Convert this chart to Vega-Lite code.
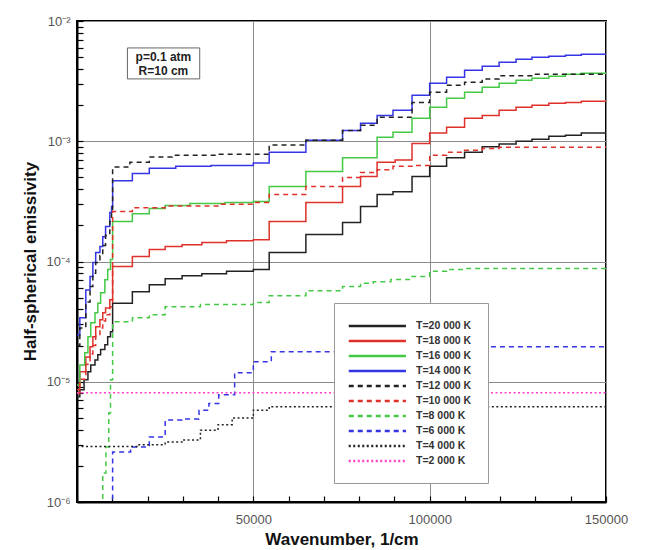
{
  "$schema": "https://vega.github.io/schema/vega-lite/v6.json",
  "width": 529,
  "height": 481,
  "autosize": "none",
  "padding": {"left": 77, "top": 21, "right": 48, "bottom": 48},
  "config": {
    "font": "Liberation Sans",
    "view": {"stroke": "#000", "strokeWidth": 2},
    "axis": {"domainColor": "#000", "domainWidth": 2, "tickColor": "#000", "tickWidth": 1.2, "labelColor": "#555", "labelFontSize": 13, "titleFontSize": 17, "titleFontWeight": "bold", "titleColor": "#111", "gridColor": "#8a8a8a", "gridWidth": 1, "labelOverlap": false, "ticks": true}
  },
  "datasets": {
    "curves": [
      {"T": "T=20 000 K", "wn": 0, "e": 7.5e-6}, {"T": "T=20 000 K", "wn": 800, "e": 8.6e-6}, {"T": "T=20 000 K", "wn": 2000, "e": 1.04e-5}, {"T": "T=20 000 K", "wn": 3100, "e": 1.21e-5}, {"T": "T=20 000 K", "wn": 3900, "e": 1.38e-5}, {"T": "T=20 000 K", "wn": 5100, "e": 1.52e-5}, {"T": "T=20 000 K", "wn": 5900, "e": 1.68e-5}, {"T": "T=20 000 K", "wn": 6700, "e": 1.85e-5}, {"T": "T=20 000 K", "wn": 7900, "e": 2.03e-5}, {"T": "T=20 000 K", "wn": 8700, "e": 2.37e-5}, {"T": "T=20 000 K", "wn": 9500, "e": 2.6e-5}, {"T": "T=20 000 K", "wn": 10100, "e": 4.5e-5}, {"T": "T=20 000 K", "wn": 15700, "e": 5.6e-5}, {"T": "T=20 000 K", "wn": 20500, "e": 6.4e-5}, {"T": "T=20 000 K", "wn": 25000, "e": 7.2e-5}, {"T": "T=20 000 K", "wn": 29800, "e": 7.6e-5}, {"T": "T=20 000 K", "wn": 35400, "e": 7.9e-5}, {"T": "T=20 000 K", "wn": 42400, "e": 8.3e-5}, {"T": "T=20 000 K", "wn": 50000, "e": 8.6e-5}, {"T": "T=20 000 K", "wn": 54500, "e": 1.19e-4}, {"T": "T=20 000 K", "wn": 64900, "e": 1.68e-4}, {"T": "T=20 000 K", "wn": 75300, "e": 2.11e-4}, {"T": "T=20 000 K", "wn": 80400, "e": 2.87e-4}, {"T": "T=20 000 K", "wn": 85100, "e": 3.6e-4}, {"T": "T=20 000 K", "wn": 89600, "e": 3.8e-4}, {"T": "T=20 000 K", "wn": 95000, "e": 5.1e-4}, {"T": "T=20 000 K", "wn": 100000, "e": 6.2e-4}, {"T": "T=20 000 K", "wn": 104800, "e": 7.3e-4}, {"T": "T=20 000 K", "wn": 109900, "e": 8.1e-4}, {"T": "T=20 000 K", "wn": 114900, "e": 9.0e-4}, {"T": "T=20 000 K", "wn": 119700, "e": 9.5e-4}, {"T": "T=20 000 K", "wn": 124500, "e": 1.0e-3}, {"T": "T=20 000 K", "wn": 129000, "e": 1.04e-3}, {"T": "T=20 000 K", "wn": 133800, "e": 1.1e-3}, {"T": "T=20 000 K", "wn": 138500, "e": 1.12e-3}, {"T": "T=20 000 K", "wn": 143000, "e": 1.17e-3}, {"T": "T=20 000 K", "wn": 150000, "e": 1.19e-3},

      {"T": "T=18 000 K", "wn": 0, "e": 8.6e-6}, {"T": "T=18 000 K", "wn": 800, "e": 1.21e-5}, {"T": "T=18 000 K", "wn": 2500, "e": 1.61e-5}, {"T": "T=18 000 K", "wn": 3700, "e": 1.95e-5}, {"T": "T=18 000 K", "wn": 4500, "e": 2.37e-5}, {"T": "T=18 000 K", "wn": 5300, "e": 2.87e-5}, {"T": "T=18 000 K", "wn": 6500, "e": 3.28e-5}, {"T": "T=18 000 K", "wn": 7300, "e": 3.75e-5}, {"T": "T=18 000 K", "wn": 8100, "e": 4.1e-5}, {"T": "T=18 000 K", "wn": 9300, "e": 4.8e-5}, {"T": "T=18 000 K", "wn": 10100, "e": 9.1e-5}, {"T": "T=18 000 K", "wn": 15700, "e": 1.1e-4}, {"T": "T=18 000 K", "wn": 20500, "e": 1.26e-4}, {"T": "T=18 000 K", "wn": 25000, "e": 1.33e-4}, {"T": "T=18 000 K", "wn": 29800, "e": 1.38e-4}, {"T": "T=18 000 K", "wn": 35400, "e": 1.44e-4}, {"T": "T=18 000 K", "wn": 42400, "e": 1.49e-4}, {"T": "T=18 000 K", "wn": 50000, "e": 1.52e-4}, {"T": "T=18 000 K", "wn": 54500, "e": 2.15e-4}, {"T": "T=18 000 K", "wn": 64900, "e": 3.1e-4}, {"T": "T=18 000 K", "wn": 75300, "e": 4.2e-4}, {"T": "T=18 000 K", "wn": 80400, "e": 5.1e-4}, {"T": "T=18 000 K", "wn": 85100, "e": 6.7e-4}, {"T": "T=18 000 K", "wn": 90200, "e": 7.0e-4}, {"T": "T=18 000 K", "wn": 95000, "e": 9.6e-4}, {"T": "T=18 000 K", "wn": 100000, "e": 1.17e-3}, {"T": "T=18 000 K", "wn": 104800, "e": 1.31e-3}, {"T": "T=18 000 K", "wn": 109900, "e": 1.55e-3}, {"T": "T=18 000 K", "wn": 114900, "e": 1.64e-3}, {"T": "T=18 000 K", "wn": 119700, "e": 1.81e-3}, {"T": "T=18 000 K", "wn": 124500, "e": 1.92e-3}, {"T": "T=18 000 K", "wn": 129000, "e": 1.99e-3}, {"T": "T=18 000 K", "wn": 133800, "e": 2.07e-3}, {"T": "T=18 000 K", "wn": 138500, "e": 2.1e-3}, {"T": "T=18 000 K", "wn": 143000, "e": 2.15e-3}, {"T": "T=18 000 K", "wn": 150000, "e": 2.2e-3},

      {"T": "T=16 000 K", "wn": 0, "e": 9.4e-6}, {"T": "T=16 000 K", "wn": 800, "e": 1.38e-5}, {"T": "T=16 000 K", "wn": 2200, "e": 1.74e-5}, {"T": "T=16 000 K", "wn": 3100, "e": 2.37e-5}, {"T": "T=16 000 K", "wn": 3900, "e": 3.1e-5}, {"T": "T=16 000 K", "wn": 5100, "e": 3.75e-5}, {"T": "T=16 000 K", "wn": 5900, "e": 4.5e-5}, {"T": "T=16 000 K", "wn": 6700, "e": 5.5e-5}, {"T": "T=16 000 K", "wn": 7900, "e": 7.05e-5}, {"T": "T=16 000 K", "wn": 8700, "e": 8.6e-5}, {"T": "T=16 000 K", "wn": 9500, "e": 1.04e-4}, {"T": "T=16 000 K", "wn": 10100, "e": 2.15e-4}, {"T": "T=16 000 K", "wn": 15700, "e": 2.5e-4}, {"T": "T=16 000 K", "wn": 20500, "e": 2.76e-4}, {"T": "T=16 000 K", "wn": 25000, "e": 2.92e-4}, {"T": "T=16 000 K", "wn": 32000, "e": 3.03e-4}, {"T": "T=16 000 K", "wn": 42000, "e": 3.1e-4}, {"T": "T=16 000 K", "wn": 50000, "e": 3.15e-4}, {"T": "T=16 000 K", "wn": 54500, "e": 4.2e-4}, {"T": "T=16 000 K", "wn": 64900, "e": 5.6e-4}, {"T": "T=16 000 K", "wn": 75300, "e": 7.3e-4}, {"T": "T=16 000 K", "wn": 85100, "e": 1.08e-3}, {"T": "T=16 000 K", "wn": 89600, "e": 1.19e-3}, {"T": "T=16 000 K", "wn": 95000, "e": 1.55e-3}, {"T": "T=16 000 K", "wn": 100000, "e": 1.92e-3}, {"T": "T=16 000 K", "wn": 104800, "e": 2.28e-3}, {"T": "T=16 000 K", "wn": 109900, "e": 2.56e-3}, {"T": "T=16 000 K", "wn": 114900, "e": 2.81e-3}, {"T": "T=16 000 K", "wn": 119700, "e": 3.03e-3}, {"T": "T=16 000 K", "wn": 124500, "e": 3.21e-3}, {"T": "T=16 000 K", "wn": 129000, "e": 3.34e-3}, {"T": "T=16 000 K", "wn": 133800, "e": 3.47e-3}, {"T": "T=16 000 K", "wn": 138500, "e": 3.6e-3}, {"T": "T=16 000 K", "wn": 143000, "e": 3.68e-3}, {"T": "T=16 000 K", "wn": 150000, "e": 3.75e-3},

      {"T": "T=14 000 K", "wn": 0, "e": 2.46e-5}, {"T": "T=14 000 K", "wn": 800, "e": 3.4e-5}, {"T": "T=14 000 K", "wn": 2500, "e": 5.8e-5}, {"T": "T=14 000 K", "wn": 3700, "e": 7.5e-5}, {"T": "T=14 000 K", "wn": 4500, "e": 9.8e-5}, {"T": "T=14 000 K", "wn": 5300, "e": 1.19e-4}, {"T": "T=14 000 K", "wn": 6500, "e": 1.33e-4}, {"T": "T=14 000 K", "wn": 7300, "e": 1.61e-4}, {"T": "T=14 000 K", "wn": 8100, "e": 1.95e-4}, {"T": "T=14 000 K", "wn": 9300, "e": 2.55e-4}, {"T": "T=14 000 K", "wn": 9800, "e": 2.87e-4}, {"T": "T=14 000 K", "wn": 10100, "e": 4.7e-4}, {"T": "T=14 000 K", "wn": 15700, "e": 5.4e-4}, {"T": "T=14 000 K", "wn": 20500, "e": 5.96e-4}, {"T": "T=14 000 K", "wn": 28000, "e": 6.2e-4}, {"T": "T=14 000 K", "wn": 38000, "e": 6.3e-4}, {"T": "T=14 000 K", "wn": 50000, "e": 6.6e-4}, {"T": "T=14 000 K", "wn": 54500, "e": 8.1e-4}, {"T": "T=14 000 K", "wn": 64900, "e": 1.02e-3}, {"T": "T=14 000 K", "wn": 75300, "e": 1.23e-3}, {"T": "T=14 000 K", "wn": 80400, "e": 1.41e-3}, {"T": "T=14 000 K", "wn": 85100, "e": 1.64e-3}, {"T": "T=14 000 K", "wn": 89600, "e": 1.81e-3}, {"T": "T=14 000 K", "wn": 95000, "e": 2.41e-3}, {"T": "T=14 000 K", "wn": 100000, "e": 3.03e-3}, {"T": "T=14 000 K", "wn": 104800, "e": 3.4e-3}, {"T": "T=14 000 K", "wn": 109900, "e": 3.89e-3}, {"T": "T=14 000 K", "wn": 114900, "e": 4.2e-3}, {"T": "T=14 000 K", "wn": 119700, "e": 4.53e-3}, {"T": "T=14 000 K", "wn": 124500, "e": 4.8e-3}, {"T": "T=14 000 K", "wn": 129000, "e": 5.0e-3}, {"T": "T=14 000 K", "wn": 133800, "e": 5.1e-3}, {"T": "T=14 000 K", "wn": 138500, "e": 5.2e-3}, {"T": "T=14 000 K", "wn": 143000, "e": 5.3e-3}, {"T": "T=14 000 K", "wn": 150000, "e": 5.3e-3},

      {"T": "T=12 000 K", "wn": 0, "e": 2.0e-5}, {"T": "T=12 000 K", "wn": 800, "e": 2.8e-5}, {"T": "T=12 000 K", "wn": 2500, "e": 4.6e-5}, {"T": "T=12 000 K", "wn": 3700, "e": 6.2e-5}, {"T": "T=12 000 K", "wn": 4500, "e": 8.0e-5}, {"T": "T=12 000 K", "wn": 5300, "e": 9.8e-5}, {"T": "T=12 000 K", "wn": 6500, "e": 1.12e-4}, {"T": "T=12 000 K", "wn": 7300, "e": 1.36e-4}, {"T": "T=12 000 K", "wn": 8100, "e": 1.65e-4}, {"T": "T=12 000 K", "wn": 9300, "e": 2.15e-4}, {"T": "T=12 000 K", "wn": 9800, "e": 2.5e-4}, {"T": "T=12 000 K", "wn": 10100, "e": 6.1e-4}, {"T": "T=12 000 K", "wn": 15000, "e": 6.7e-4}, {"T": "T=12 000 K", "wn": 20500, "e": 7.4e-4}, {"T": "T=12 000 K", "wn": 27000, "e": 7.65e-4}, {"T": "T=12 000 K", "wn": 40000, "e": 7.8e-4}, {"T": "T=12 000 K", "wn": 54500, "e": 9.3e-4}, {"T": "T=12 000 K", "wn": 64900, "e": 1.02e-3}, {"T": "T=12 000 K", "wn": 75300, "e": 1.23e-3}, {"T": "T=12 000 K", "wn": 80400, "e": 1.36e-3}, {"T": "T=12 000 K", "wn": 85100, "e": 1.58e-3}, {"T": "T=12 000 K", "wn": 95000, "e": 2.1e-3}, {"T": "T=12 000 K", "wn": 100000, "e": 2.56e-3}, {"T": "T=12 000 K", "wn": 104800, "e": 2.92e-3}, {"T": "T=12 000 K", "wn": 109900, "e": 3.1e-3}, {"T": "T=12 000 K", "wn": 114900, "e": 3.3e-3}, {"T": "T=12 000 K", "wn": 119700, "e": 3.5e-3}, {"T": "T=12 000 K", "wn": 129000, "e": 3.6e-3}, {"T": "T=12 000 K", "wn": 150000, "e": 3.6e-3},

      {"T": "T=10 000 K", "wn": 0, "e": 8.0e-6}, {"T": "T=10 000 K", "wn": 800, "e": 1.05e-5}, {"T": "T=10 000 K", "wn": 2500, "e": 1.4e-5}, {"T": "T=10 000 K", "wn": 3700, "e": 1.7e-5}, {"T": "T=10 000 K", "wn": 4500, "e": 2.0e-5}, {"T": "T=10 000 K", "wn": 5300, "e": 2.4e-5}, {"T": "T=10 000 K", "wn": 6500, "e": 2.8e-5}, {"T": "T=10 000 K", "wn": 7300, "e": 3.2e-5}, {"T": "T=10 000 K", "wn": 8100, "e": 3.6e-5}, {"T": "T=10 000 K", "wn": 9300, "e": 4.2e-5}, {"T": "T=10 000 K", "wn": 10100, "e": 2.6e-4}, {"T": "T=10 000 K", "wn": 15700, "e": 2.8e-4}, {"T": "T=10 000 K", "wn": 25000, "e": 2.9e-4}, {"T": "T=10 000 K", "wn": 40000, "e": 3.0e-4}, {"T": "T=10 000 K", "wn": 50000, "e": 3.1e-4}, {"T": "T=10 000 K", "wn": 54500, "e": 3.6e-4}, {"T": "T=10 000 K", "wn": 64900, "e": 4.2e-4}, {"T": "T=10 000 K", "wn": 75300, "e": 5.0e-4}, {"T": "T=10 000 K", "wn": 80400, "e": 5.5e-4}, {"T": "T=10 000 K", "wn": 85100, "e": 5.8e-4}, {"T": "T=10 000 K", "wn": 89600, "e": 6.2e-4}, {"T": "T=10 000 K", "wn": 95000, "e": 6.3e-4}, {"T": "T=10 000 K", "wn": 100000, "e": 7.65e-4}, {"T": "T=10 000 K", "wn": 104800, "e": 8.1e-4}, {"T": "T=10 000 K", "wn": 109900, "e": 8.4e-4}, {"T": "T=10 000 K", "wn": 114900, "e": 8.7e-4}, {"T": "T=10 000 K", "wn": 119700, "e": 8.9e-4}, {"T": "T=10 000 K", "wn": 150000, "e": 9.1e-4},

      {"T": "T=8 000 K", "wn": 6500, "e": 9.4e-7}, {"T": "T=8 000 K", "wn": 7300, "e": 1.74e-6}, {"T": "T=8 000 K", "wn": 8200, "e": 2.87e-6}, {"T": "T=8 000 K", "wn": 9000, "e": 5.5e-6}, {"T": "T=8 000 K", "wn": 9500, "e": 1.04e-5}, {"T": "T=8 000 K", "wn": 10100, "e": 3.15e-5}, {"T": "T=8 000 K", "wn": 15700, "e": 3.4e-5}, {"T": "T=8 000 K", "wn": 20500, "e": 3.6e-5}, {"T": "T=8 000 K", "wn": 25000, "e": 4.2e-5}, {"T": "T=8 000 K", "wn": 35000, "e": 4.4e-5}, {"T": "T=8 000 K", "wn": 50000, "e": 4.56e-5}, {"T": "T=8 000 K", "wn": 54500, "e": 5.2e-5}, {"T": "T=8 000 K", "wn": 64900, "e": 5.7e-5}, {"T": "T=8 000 K", "wn": 75300, "e": 6.2e-5}, {"T": "T=8 000 K", "wn": 80400, "e": 6.6e-5}, {"T": "T=8 000 K", "wn": 84000, "e": 6.8e-5}, {"T": "T=8 000 K", "wn": 89000, "e": 7.1e-5}, {"T": "T=8 000 K", "wn": 95000, "e": 7.5e-5}, {"T": "T=8 000 K", "wn": 100000, "e": 8.3e-5}, {"T": "T=8 000 K", "wn": 104800, "e": 8.6e-5}, {"T": "T=8 000 K", "wn": 110000, "e": 8.75e-5}, {"T": "T=8 000 K", "wn": 150000, "e": 8.75e-5},

      {"T": "T=6 000 K", "wn": 9800, "e": 9.0e-7}, {"T": "T=6 000 K", "wn": 10100, "e": 2.6e-6}, {"T": "T=6 000 K", "wn": 15200, "e": 2.87e-6}, {"T": "T=6 000 K", "wn": 20500, "e": 3.47e-6}, {"T": "T=6 000 K", "wn": 25000, "e": 4.8e-6}, {"T": "T=6 000 K", "wn": 29800, "e": 4.9e-6}, {"T": "T=6 000 K", "wn": 34600, "e": 5.8e-6}, {"T": "T=6 000 K", "wn": 37400, "e": 6.6e-6}, {"T": "T=6 000 K", "wn": 40200, "e": 7.8e-6}, {"T": "T=6 000 K", "wn": 44700, "e": 1.19e-5}, {"T": "T=6 000 K", "wn": 50000, "e": 1.47e-5}, {"T": "T=6 000 K", "wn": 55100, "e": 1.78e-5}, {"T": "T=6 000 K", "wn": 100000, "e": 1.95e-5}, {"T": "T=6 000 K", "wn": 150000, "e": 1.95e-5},

      {"T": "T=4 000 K", "wn": 0, "e": 2.9e-6}, {"T": "T=4 000 K", "wn": 17000, "e": 3.0e-6}, {"T": "T=4 000 K", "wn": 25000, "e": 3.15e-6}, {"T": "T=4 000 K", "wn": 30000, "e": 3.28e-6}, {"T": "T=4 000 K", "wn": 35000, "e": 3.96e-6}, {"T": "T=4 000 K", "wn": 40000, "e": 4.4e-6}, {"T": "T=4 000 K", "wn": 44000, "e": 5.0e-6}, {"T": "T=4 000 K", "wn": 50000, "e": 5.8e-6}, {"T": "T=4 000 K", "wn": 54500, "e": 6.2e-6}, {"T": "T=4 000 K", "wn": 150000, "e": 6.3e-6},

      {"T": "T=2 000 K", "wn": 0, "e": 8.1e-6}, {"T": "T=2 000 K", "wn": 150000, "e": 8.1e-6}
    ],
    "noteBox": [{"wn": 14300, "wn2": 34800, "e": 5.97e-3, "e2": 3.3e-3}],
    "noteText": [{"wn": 24500, "e": 5.02e-3, "label": "p=0.1 atm"}, {"wn": 24500, "e": 3.84e-3, "label": "R=10 cm"}]
  },
  "encoding": {
    "x": {"field": "wn", "type": "quantitative", "scale": {"domain": [0, 150000], "nice": false, "zero": false},
      "axis": {"title": "Wavenumber, 1/cm", "values": [10000, 20000, 30000, 40000, 50000, 60000, 70000, 80000, 90000, 100000, 110000, 120000, 130000, 140000, 150000],
        "labelExpr": "datum.value % 50000 == 0 ? format(datum.value, 'd') : ''",
        "labelPadding": 17, "labelFlush": false,
        "tickSize": -6,
        "gridOpacity": {"condition": {"test": "datum.value % 50000 == 0", "value": 1}, "value": 0},
        "titleY": 42, "titleBaseline": "alphabetic"}},
    "y": {"field": "e", "type": "quantitative", "scale": {"type": "log", "domain": [1e-6, 1e-2], "nice": false},
      "axis": {"title": "Half-spherical emissivity",
        "values": [1e-6, 2e-6, 3e-6, 4e-6, 5e-6, 6e-6, 7e-6, 8e-6, 9e-6, 1e-5, 2e-5, 3e-5, 4e-5, 5e-5, 6e-5, 7e-5, 8e-5, 9e-5, 1e-4, 2e-4, 3e-4, 4e-4, 5e-4, 6e-4, 7e-4, 8e-4, 9e-4, 1e-3, 2e-3, 3e-3, 4e-3, 5e-3, 6e-3, 7e-3, 8e-3, 9e-3, 1e-2],
        "labelExpr": "abs(log(datum.value)/LN10 - round(log(datum.value)/LN10)) < 0.01 ? '10' + {'-2':'⁻²','-3':'⁻³','-4':'⁻⁴','-5':'⁻⁵','-6':'⁻⁶'}['' + round(log(datum.value)/LN10)] : ''",
        "labelPadding": 13, "labelFlush": false,
        "tickSize": -6,
        "gridOpacity": {"condition": {"test": "abs(log(datum.value)/LN10 - round(log(datum.value)/LN10)) < 0.01", "value": 1}, "value": 0},
        "titleX": -42, "titleY": 240, "titleAlign": "center", "titleBaseline": "alphabetic", "titleAngle": 270}}
  },
  "layer": [
    {
      "data": {"name": "curves"},
      "mark": {"type": "line", "interpolate": "step-after", "strokeWidth": 1.5, "clip": true},
      "encoding": {
        "color": {"field": "T", "type": "nominal", "sort": null,
          "scale": {"domain": ["T=20 000 K", "T=18 000 K", "T=16 000 K", "T=14 000 K", "T=12 000 K", "T=10 000 K", "T=8 000 K", "T=6 000 K", "T=4 000 K", "T=2 000 K"],
            "range": ["#222222", "#e0302a", "#44c944", "#3535e6", "#222222", "#e0302a", "#44c944", "#3535e6", "#222222", "#ff40c8"]},
          "legend": {"title": null, "orient": "none", "legendX": 257, "legendY": 282, "fillColor": "white", "strokeColor": "#999", "padding": 16,
            "symbolType": "M-1.5,0H8.9", "symbolSize": 121, "symbolStrokeWidth": 2.5, "labelOffset": 52, "labelFontSize": 10.5, "labelFontWeight": "bold", "labelColor": "#333", "rowPadding": 2}},
        "strokeDash": {"field": "T", "type": "nominal", "sort": null,
          "scale": {"domain": ["T=20 000 K", "T=18 000 K", "T=16 000 K", "T=14 000 K", "T=12 000 K", "T=10 000 K", "T=8 000 K", "T=6 000 K", "T=4 000 K", "T=2 000 K"],
            "range": [[1, 0], [1, 0], [1, 0], [1, 0], [5, 4], [5, 4], [5, 4], [5, 4], [2, 2.5], [2, 2.5]]},
          "legend": {"title": null, "orient": "none", "legendX": 257, "legendY": 282, "fillColor": "white", "strokeColor": "#999", "padding": 16,
            "symbolType": "M-1.5,0H8.9", "symbolSize": 121, "symbolStrokeWidth": 2.5, "labelOffset": 52, "labelFontSize": 10.5, "labelFontWeight": "bold", "labelColor": "#333", "rowPadding": 2}}
      }
    },
    {
      "data": {"name": "noteBox"},
      "mark": {"type": "rect", "fill": "white", "stroke": "#666", "strokeWidth": 1},
      "encoding": {
        "x2": {"field": "wn2"},
        "y2": {"field": "e2"}
      }
    },
    {
      "data": {"name": "noteText"},
      "mark": {"type": "text", "fontSize": 12, "fontWeight": "bold", "color": "#222", "baseline": "middle", "align": "center"},
      "encoding": {
        "text": {"field": "label"}
      }
    }
  ]
}
